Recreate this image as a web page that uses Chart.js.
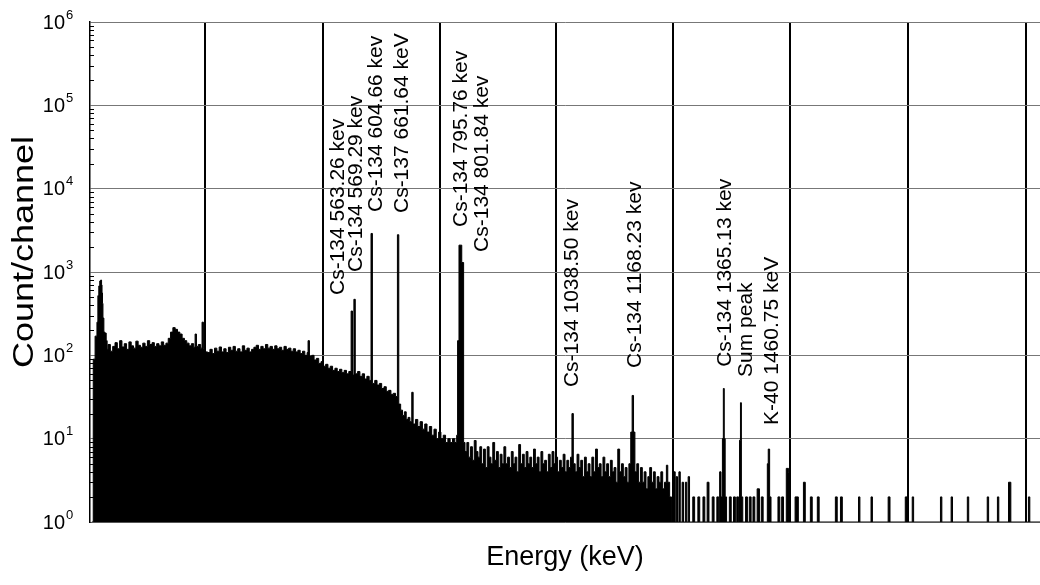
<!DOCTYPE html>
<html>
<head>
<meta charset="utf-8">
<script src="https://cdn.jsdelivr.net/npm/chart.js@4/dist/chart.umd.min.js"></script>
<style>
  body { margin: 0; background: #fff; }
  #wrap { width: 1040px; height: 585px; }
</style>
</head>
<body>
<div id="wrap"><canvas id="spectrum" width="1040" height="585"></canvas></div>
<script>
// Spectrum: channel energy (keV) and counts, as steps
const lowEnergy = [0, 3, 7, 11, 13, 15, 17, 19, 21, 22, 23, 24, 26, 28, 31, 33, 35, 40, 45, 50, 55, 60, 65, 70, 75, 80, 85, 90, 95, 100, 105, 110, 115, 120, 125, 130, 135, 140, 145, 150, 155, 160, 165, 170, 175, 180, 185, 190, 195, 200, 205, 210, 215, 220, 223, 226, 230, 235, 238, 241, 245];
const lowCounts = [1, 90, 170, 250, 520, 680, 780, 800, 700, 560, 420, 280, 190, 185, 150, 118, 135, 112, 128, 142, 120, 150, 126, 138, 118, 145, 130, 122, 148, 132, 125, 140, 128, 150, 135, 142, 128, 138, 130, 145, 132, 140, 160, 190, 215, 205, 190, 180, 160, 150, 140, 130, 138, 125, 180, 128, 135, 122, 250, 120, 110];

const midEnergy = [250, 255, 260, 265, 270, 275, 280, 285, 290, 295, 300, 305, 310, 315, 320, 325, 330, 335, 340, 345, 350, 355, 360, 365, 370, 375, 380, 385, 390, 395, 400, 405, 410, 415, 420, 425, 430, 435, 440, 445, 450, 455, 460, 465, 467, 470, 475, 480, 485, 490, 495, 500, 505, 510, 515, 520, 525, 530, 535, 540, 545, 550, 555, 560, 563, 566, 569, 574, 579, 584, 589, 594, 599, 603, 606, 611, 616, 621, 626, 631, 636, 641, 646, 651, 656, 660, 663, 667, 671, 675, 679, 683, 687, 691, 694, 699, 704, 709, 714, 719, 724, 729, 734, 739, 744, 749, 754, 759, 764, 769, 774, 779, 784, 788, 790, 793, 799];
const midCounts = [108, 118, 105, 122, 112, 126, 110, 120, 108, 125, 115, 128, 112, 120, 110, 130, 115, 122, 110, 118, 125, 132, 118, 128, 120, 135, 122, 128, 118, 130, 120, 125, 115, 128, 118, 122, 112, 120, 110, 115, 105, 112, 100, 108, 150, 98, 100, 88, 92, 80, 84, 74, 78, 70, 74, 66, 70, 64, 68, 62, 66, 60, 64, 340, 58, 470, 60, 64, 56, 60, 52, 56, 50, 2900, 46, 50, 44, 46, 40, 42, 37, 38, 34, 35, 32, 2800, 26, 22, 19, 21, 17, 18, 16, 36, 15, 17, 14, 16, 13, 15, 12, 14, 11, 13, 10, 12, 10, 11, 9, 10, 9, 10, 9, 11, 150, 2100, 1300];

const highEnergy = [803, 806, 810, 814, 818, 822, 826, 830, 834, 838, 842, 846, 850, 854, 858, 862, 866, 870, 874, 878, 882, 886, 890, 894, 898, 902, 906, 910, 914, 918, 922, 926, 930, 934, 938, 942, 946, 950, 954, 958, 962, 966, 970, 974, 978, 982, 986, 990, 994, 998, 1002, 1006, 1010, 1014, 1018, 1022, 1026, 1030, 1034, 1037, 1040, 1044, 1048, 1052, 1056, 1060, 1064, 1068, 1072, 1076, 1080, 1084, 1088, 1092, 1096, 1100, 1104, 1108, 1112, 1116, 1120, 1124, 1128, 1132, 1136, 1140, 1144, 1148, 1152, 1156, 1160, 1164, 1167, 1170, 1173, 1177, 1181, 1185, 1189, 1193, 1197, 1201, 1205, 1209, 1213, 1217, 1221, 1225, 1229, 1233, 1237, 1241, 1244, 1248];
const highCounts = [9, 7, 9, 6, 8, 5.5, 9.5, 7, 6, 8, 5, 7.5, 4.5, 8, 6, 5, 9, 5.5, 7, 4.5, 6.5, 5, 8, 5, 6, 4.5, 7, 5, 6, 4, 8.5, 5, 6.5, 4.5, 7, 5, 6, 4.5, 7.5, 5, 6, 4, 7, 5, 5.5, 4, 6.5, 4.5, 7, 5, 6, 4, 5.5, 4.5, 6.5, 4, 5.5, 4.5, 6, 20, 5, 4, 6.5, 4.5, 5.5, 3.5, 6, 4, 5, 3.5, 6, 4, 7.5, 4.5, 5, 3.5, 6, 4, 5, 3.5, 5.5, 4, 4.5, 3, 7.5, 4, 5, 3.5, 4.5, 3, 5, 12, 33, 12, 4, 5, 3, 4.5, 3, 4, 2.5, 3.5, 4.5, 3, 4, 2.5, 3.5, 3, 4, 2.5, 3, 4.8, 3, 2];

const tailEnergy = [1252, 1256, 1260, 1262, 1265, 1268, 1271, 1275, 1278, 1282, 1285, 1288, 1291, 1298, 1302, 1309, 1313, 1320, 1324, 1329, 1333, 1340, 1344, 1350, 1354, 1356, 1359, 1362, 1364, 1366, 1368, 1371, 1377, 1381, 1386, 1390, 1393, 1397, 1399, 1401, 1403, 1406, 1412, 1416, 1420, 1424, 1428, 1432, 1437, 1442, 1446, 1450, 1459, 1461, 1464, 1467, 1482, 1486, 1490, 1494, 1500, 1505, 1508, 1519, 1526, 1537, 1541, 1552, 1556, 1567, 1571, 1606, 1610, 1617, 1621, 1656, 1659, 1683, 1686, 1720, 1724, 1757, 1761, 1772, 1775, 1833, 1836, 1856, 1859, 1891, 1894, 1934, 1937, 1956, 1959, 1980, 1985, 2023, 2026, 2048];
const tailCounts = [1, 4, 1, 3.5, 1, 4, 1, 3, 1, 3, 1, 3.5, 1, 2, 1, 2, 1, 2, 1, 3, 1, 2, 1, 2, 1, 4, 2, 10, 40, 10, 2, 1, 2, 1, 2, 1, 2, 1, 9.6, 27, 2, 1, 2, 1, 2, 1, 2, 1, 2.5, 1, 2, 1, 5, 7.5, 2, 1, 2, 1, 2, 1, 4.4, 3.9, 1, 2, 1, 3, 1, 2, 1, 2, 1, 2, 1, 2, 1, 2, 1, 2, 1, 2, 1, 2, 1, 2, 1, 2, 1, 2, 1, 2, 1, 2, 1, 2, 1, 3, 1, 2, 1, 1];

// vertical grid energies (keV) and decades on the count axis
const gridKeV = [245, 500, 752, 1003, 1256, 1508, 1763, 2017];
const decades = [1, 10, 100, 1000, 10000, 100000, 1000000];

// peak labels: text and the energy they mark
const peakText = ['Cs-134 563.26 kev', 'Cs-134 569.29 kev', 'Cs-134 604.66 kev', 'Cs-137 661.64 keV', 'Cs-134 795.76 kev', 'Cs-134 801.84 kev', 'Cs-134 1038.50 kev', 'Cs-134 1168.23 kev', 'Cs-134 1365.13 kev', 'Sum peak', 'K-40 1460.75 keV'];
const peakKeV = [563.26, 569.29, 604.66, 661.64, 795.76, 801.84, 1038.50, 1168.23, 1365.13, 1400.42, 1460.75];
// where each label starts (count level) and its sideways nudge in px
const labelBase = [530, 1000, 5250, 5100, 3470, 1740, 41.6, 70.5, 72.8, 55, 14.6];
const labelShift = [-15, 0, 3, 3, 0, 18, -1, 2, 0, 5, 3];

const FONT = 'Arial, "Liberation Sans", sans-serif';

function toPoints(es, cs) {
    var pts = [];
    for (var i = 0; i < es.length; i++) pts.push({x: es[i], y: cs[i]});
    return pts;
}
const spectrum = toPoints(lowEnergy, lowCounts)
    .concat(toPoints(midEnergy, midCounts))
    .concat(toPoints(highEnergy, highCounts))
    .concat(toPoints(tailEnergy, tailCounts));

const textPlugin = {
    id: 'spectrumText',
    afterDraw(chart) {
        const ctx = chart.ctx;
        const x = chart.scales.x, y = chart.scales.y;
        const left = chart.chartArea.left;
        ctx.save();
        ctx.fillStyle = '#000';
        ctx.strokeStyle = '#000';

        // minor ticks inside the left axis
        ctx.lineWidth = 1;
        for (var d = 0; d < decades.length - 1; d++) {
            for (var m = 2; m <= 9; m++) {
                var py = Math.round(y.getPixelForValue(decades[d] * m)) + 0.5;
                ctx.beginPath();
                ctx.moveTo(left, py);
                ctx.lineTo(left + 4, py);
                ctx.stroke();
            }
        }

        // decade labels 10^n
        decades.forEach(function(v, i) {
            var py = y.getPixelForValue(v);
            ctx.font = '20px ' + FONT;
            ctx.textAlign = 'right';
            ctx.textBaseline = 'middle';
            ctx.fillText('10', 65, py + 1);
            ctx.font = '13px ' + FONT;
            ctx.textAlign = 'left';
            ctx.fillText(String(i), 66, py - 7);
        });

        // peak labels, rotated
        ctx.font = '21px ' + FONT;
        ctx.textAlign = 'left';
        ctx.textBaseline = 'middle';
        peakText.forEach(function(t, i) {
            var px = x.getPixelForValue(peakKeV[i]) + labelShift[i];
            var py = y.getPixelForValue(labelBase[i]);
            ctx.save();
            ctx.translate(px, py);
            ctx.rotate(-Math.PI / 2);
            ctx.fillText(t, 0, 1);
            ctx.restore();
        });

        // axis titles
        ctx.font = '27px ' + FONT;
        ctx.textAlign = 'center';
        ctx.textBaseline = 'middle';
        ctx.fillText('Energy (keV)', 565, 558);
        ctx.save();
        ctx.translate(33, 252);
        ctx.rotate(-Math.PI / 2);
        ctx.scale(1.2, 1);
        ctx.font = '30px ' + FONT;
        ctx.textBaseline = 'alphabetic';
        ctx.fillText('Count/channel', 0, 0);
        ctx.restore();

        ctx.restore();
    }
};

new Chart(document.getElementById('spectrum'), {
    type: 'line',
    data: {
        datasets: [{
            data: spectrum,
            stepped: 'before',
            fill: 'start',
            backgroundColor: '#000',
            borderColor: '#000',
            borderWidth: 1,
            pointRadius: 0
        }]
    },
    options: {
        responsive: false,
        animation: false,
        devicePixelRatio: 1,
        layout: { padding: { left: 90, right: 0, top: 22, bottom: 63 } },
        plugins: { legend: { display: false }, tooltip: { enabled: false } },
        scales: {
            x: {
                type: 'linear',
                min: -4,
                max: 2048,
                afterBuildTicks: function(axis) {
                    axis.ticks = gridKeV.map(function(v) { return {value: v}; });
                },
                ticks: { display: false },
                grid: { color: '#000', lineWidth: 2, drawTicks: false },
                border: { color: '#555', width: 1 }
            },
            y: {
                type: 'logarithmic',
                min: 1,
                max: 1000000,
                afterBuildTicks: function(axis) {
                    axis.ticks = decades.map(function(v) { return {value: v}; });
                },
                ticks: { display: false },
                grid: { color: '#777', lineWidth: 1, drawTicks: false },
                border: { color: '#000', width: 1.5 }
            }
        }
    },
    plugins: [textPlugin]
});
</script>
</body>
</html>
